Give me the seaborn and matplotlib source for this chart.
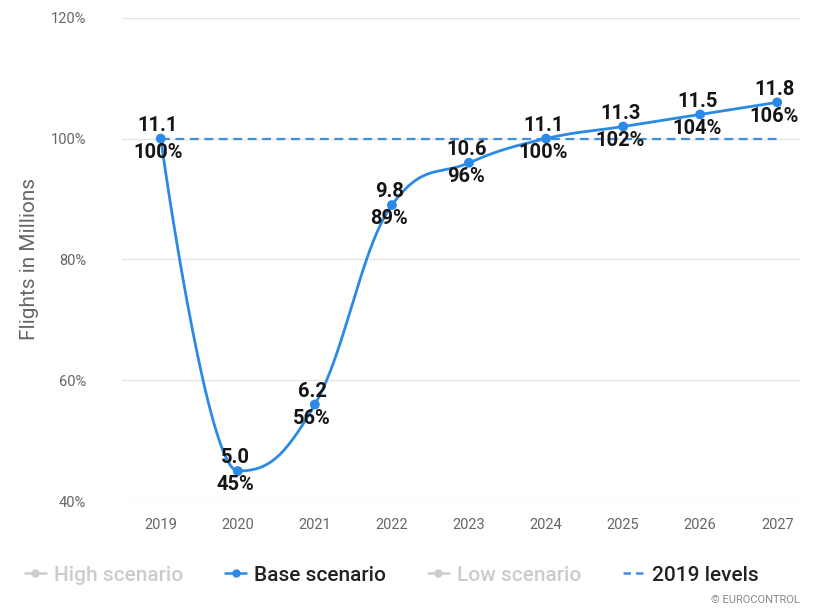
import numpy as np
import pandas as pd
import matplotlib
matplotlib.use('Agg')
import matplotlib.pyplot as plt
from matplotlib.lines import Line2D
import seaborn as sns

# data
years = [2019, 2020, 2021, 2022, 2023, 2024, 2025, 2026, 2027]
flights = [11.1, 5.0, 6.2, 9.8, 10.6, 11.1, 11.3, 11.5, 11.8]
pct = [100, 45, 56, 89, 96, 100, 102, 104, 106]
level_2019 = [100] * len(years)
y_ticks = [40, 60, 80, 100, 120]

BLUE = '#2a8ae6'
GREY = '#666666'


def spline_curve(x, y, n=40, smoothing=1.5):
    # highcharts-style spline: bezier control points, no overshoot
    x = np.asarray(x, float)
    y = np.asarray(y, float)
    k = len(x)
    lc = [(x[i], y[i]) for i in range(k)]
    rc = [(x[i], y[i]) for i in range(k)]
    den = smoothing + 1
    for i in range(1, k - 1):
        lx, ly, px, py, nx, ny = x[i-1], y[i-1], x[i], y[i], x[i+1], y[i+1]
        lcx, lcy = (smoothing*px + lx) / den, (smoothing*py + ly) / den
        rcx, rcy = (smoothing*px + nx) / den, (smoothing*py + ny) / den
        corr = (rcy - lcy) * (rcx - px) / (rcx - lcx) + py - rcy
        lcy += corr
        rcy += corr
        if lcy > ly and lcy > py:
            lcy = max(ly, py); rcy = 2*py - lcy
        elif lcy < ly and lcy < py:
            lcy = min(ly, py); rcy = 2*py - lcy
        if rcy > ny and rcy > py:
            rcy = max(py, ny); lcy = 2*py - rcy
        elif rcy < ny and rcy < py:
            rcy = min(py, ny); lcy = 2*py - rcy
        lc[i] = (lcx, lcy)
        rc[i] = (rcx, rcy)
    t = np.linspace(0, 1, n, endpoint=False)[:, None]
    parts = []
    for i in range(k - 1):
        p0 = np.array([x[i], y[i]]); p1 = np.array(rc[i])
        p2 = np.array(lc[i+1]); p3 = np.array([x[i+1], y[i+1]])
        parts.append((1-t)**3*p0 + 3*(1-t)**2*t*p1 + 3*(1-t)*t**2*p2 + t**3*p3)
    parts.append(np.array([[x[-1], y[-1]]]))
    pts = np.vstack(parts)
    return pts[:, 0], pts[:, 1]


sns.set_style('white')
plt.rcParams['font.family'] = ['Roboto', 'DejaVu Sans']

fig = plt.figure(figsize=(8.2, 6.12), dpi=100)
ax = fig.add_axes([0.149, 0.181, 0.827, 0.790])

df = pd.DataFrame({'year': years, 'pct': pct, 'flights': flights, 'level': level_2019})
cx, cy = spline_curve(years, pct)

sns.lineplot(x=df.year, y=df.level, ax=ax, color='#3d8fe0', lw=1.6,
             linestyle=(0, (4, 2.5)), zorder=2)
sns.lineplot(x=cx, y=cy, ax=ax, color=BLUE, lw=2, sort=False, zorder=3)
sns.scatterplot(x=df.year, y=df.pct, ax=ax, color=BLUE, s=50,
                edgecolor='none', zorder=4)

for yr, f, p in zip(years, flights, pct):
    ax.annotate(f'{f:.1f}', (yr, p), xytext=(-2, 9.5), textcoords='offset points',
                ha='center', va='center', fontsize=14.5, fontweight='bold',
                color='#151515', zorder=5)
    ax.annotate(f'{p}%', (yr, p), xytext=(-2, -10), textcoords='offset points',
                ha='center', va='center', fontsize=14.5, fontweight='bold',
                color='#151515', zorder=5)

ax.set_xlim(2018.5, 2027.3)
ax.set_ylim(40, 120)
ax.set_xticks(years)
ax.set_xticklabels([str(y) for y in years])
ax.set_yticks(y_ticks)
ax.set_yticklabels([f'{t}%' for t in y_ticks])
ax.tick_params(axis='both', length=0, labelsize=10.5, colors=GREY)
ax.tick_params(axis='y', pad=26)
ax.tick_params(axis='x', pad=12)
ax.yaxis.grid(True, color='#e6e6e6', lw=1)
ax.set_axisbelow(True)
for s in ax.spines.values():
    s.set_visible(False)
ax.set_xlabel('')
ax.set_ylabel('Flights in Millions', fontsize=15, color=GREY, labelpad=8)

handles = [
    Line2D([], [], color='#cccccc', marker='o', ms=5, lw=1.8),
    Line2D([], [], color=BLUE, marker='o', ms=5, lw=1.8),
    Line2D([], [], color='#cccccc', marker='o', ms=5, lw=1.8),
    Line2D([], [], color='#3d8fe0', lw=1.8, linestyle=(0, (3, 2))),
]
labels = ['High scenario', 'Base scenario', 'Low scenario', '2019 levels']
leg = fig.legend(handles, labels, loc='center', bbox_to_anchor=(0.478, 0.06),
                 ncol=4, frameon=False, handlelength=1.0,
                 handletextpad=0.4, columnspacing=2.0,
                 prop={'size': 15, 'weight': 'medium'})
for txt, c in zip(leg.get_texts(), ['#cccccc', '#222222', '#cccccc', '#222222']):
    txt.set_color(c)

fig.text(0.975, 0.012, '© EUROCONTROL', ha='right', va='bottom',
         fontsize=8, color='#888888')

fig.savefig('out.png', dpi=100)
